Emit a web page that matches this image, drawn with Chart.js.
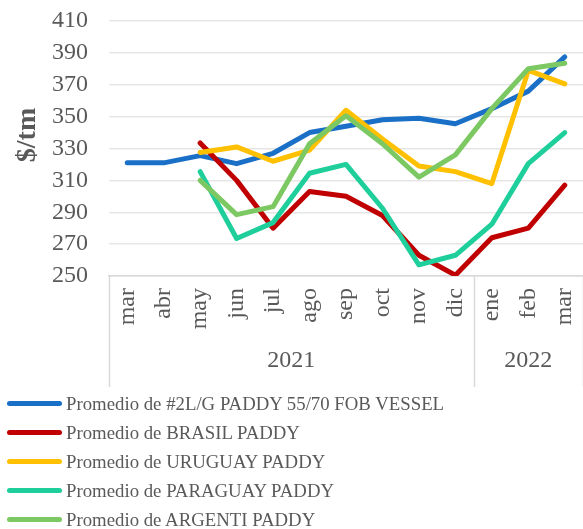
<!DOCTYPE html>
<html>
<head>
<meta charset="utf-8">
<script src="https://cdn.jsdelivr.net/npm/chart.js@4"></script>
<style>
    body { margin: 0; background: #fff; }
    #wrap { position: absolute; left: 0; top: 0; width: 583px; height: 392px; }
    #legend { position: absolute; left: 0; top: 389px; width: 583px; font-family: "Liberation Serif", serif; font-size: 18.8px; color: #595959; }
    .item { height: 29px; display: flex; align-items: center; }
    .swatch { display: inline-block; margin-left: 7px; width: 55px; height: 5px; border-radius: 3px; margin-right: 4px; }
</style>
</head>
<body>
<div id="wrap"><canvas id="chart"></canvas></div>
<div id="legend"></div>
<script>
const months = ["mar", "abr", "may", "jun", "jul", "ago", "sep", "oct", "nov", "dic", "ene", "feb", "mar"];
const yearLabels = ["2021", "2022"];
const yearSpans = [10, 3];

const fobVessel = [321, 321, 325.5, 320.5, 327, 340, 344, 348, 349, 345.5, 355, 366, 387.5];
const brasil = [null, null, 333.5, 310, 280, 303, 300, 288, 263, 250.5, 274, 280, 307];
const uruguay = [null, null, 327.5, 331, 322, 329, 354, 336, 319, 315.5, 308, 379, 370.5];
const paraguay = [null, null, 315.5, 273.5, 283.5, 314.5, 320, 292.5, 257, 263, 282.5, 320.5, 340];
const argenti = [null, null, 310, 288.5, 293.5, 333, 350.5, 333, 312, 326, 355, 380, 383.5];

const seriesNames = [
    "Promedio de #2L/G PADDY 55/70 FOB VESSEL",
    "Promedio de BRASIL PADDY",
    "Promedio de URUGUAY PADDY",
    "Promedio de PARAGUAY PADDY",
    "Promedio de ARGENTI PADDY",
];
const seriesColors = ["#1a6fc6", "#c00000", "#ffc000", "#1fcf9b", "#7cc862"];
const seriesData = [fobVessel, brasil, uruguay, paraguay, argenti];
const yTitle = "$/tm";

const textColor = "#595959";
const serif = "'Liberation Serif', 'Times New Roman', serif";

// year row under the month labels, separator lines, and the y title
const yearRowPlugin = {
    id: "yearRow",
    afterDraw(chart) {
        const ctx = chart.ctx;
        const x = chart.scales.x;
        const top = chart.chartArea.bottom;
        const lineBottom = 387;
        const half = (x.getPixelForValue(1) - x.getPixelForValue(0)) / 2;
        ctx.save();
        ctx.strokeStyle = "#d9d9d9";
        ctx.lineWidth = 1.5;
        ctx.fillStyle = textColor;
        ctx.font = "24px " + serif;
        ctx.textAlign = "center";
        ctx.textBaseline = "middle";
        let start = 0;
        const edges = [x.getPixelForValue(0) - half];
        yearSpans.forEach((span, i) => {
            const left = x.getPixelForValue(start) - half;
            const right = x.getPixelForValue(start + span - 1) + half;
            edges.push(right);
            ctx.fillText(yearLabels[i], (left + right) / 2, 361);
            start += span;
        });
        edges.forEach(e => {
            ctx.beginPath();
            ctx.moveTo(Math.round(e) + 0.5, top);
            ctx.lineTo(Math.round(e) + 0.5, lineBottom);
            ctx.stroke();
        });

        ctx.translate(28, 135);
        ctx.rotate(-Math.PI / 2);
        ctx.font = "bold 28px " + serif;
        ctx.fillText(yTitle, 0, 0);
        ctx.restore();
    },
};

new Chart(document.getElementById("chart"), {
    type: "line",
    data: {
        labels: months,
        datasets: seriesData.map((d, i) => ({
            label: seriesNames[i],
            data: d,
            borderColor: seriesColors[i],
            backgroundColor: seriesColors[i],
            borderWidth: 5,
            pointRadius: 0,
            tension: 0,
            borderCapStyle: "round",
            borderJoinStyle: "round",
            order: seriesData.length - i,
        })),
    },
    options: {
        responsive: true,
        maintainAspectRatio: false,
        animation: false,
        layout: { padding: { top: 21, right: -4, bottom: 56, left: 0 } },
        plugins: {
            legend: { display: false },
            tooltip: { enabled: false },
        },
        scales: {
            x: {
                offset: true,
                grid: { display: false, drawTicks: false },
                border: { display: true, color: "#d9d9d9", width: 1.5 },
                ticks: {
                    minRotation: 90,
                    maxRotation: 90,
                    autoSkip: false,
                    padding: 12,
                    color: textColor,
                    font: { family: serif, size: 24 },
                },
                afterFit: s => {
                    s.height = 60;
                    s.paddingLeft = 0;
                    s.paddingRight = 0;
                },
            },
            y: {
                min: 250,
                max: 410,
                grid: { color: "#e6e6e6", lineWidth: 1.5, drawTicks: false },
                border: { display: false },
                ticks: {
                    stepSize: 20,
                    padding: 21,
                    color: textColor,
                    font: { family: serif, size: 24 },
                },
                afterFit: s => {
                    s.width = 109;
                    s.paddingTop = 0;
                    s.paddingBottom = 0;
                },
            },
        },
    },
    plugins: [yearRowPlugin],
});

const legend = document.getElementById("legend");
seriesNames.forEach((name, i) => {
    const row = document.createElement("div");
    row.className = "item";
    row.innerHTML = `<span class="swatch" style="background:${seriesColors[i]}"></span><span>${name}</span>`;
    legend.appendChild(row);
});
</script>
</body>
</html>
